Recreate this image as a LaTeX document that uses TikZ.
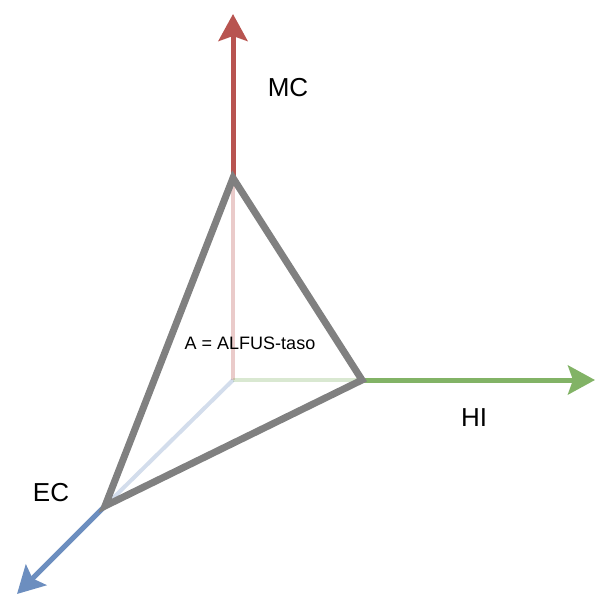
\documentclass[tikz,border=0pt]{standalone}
\usepackage{fontspec}
\setmainfont{Liberation Sans}
\usetikzlibrary{arrows.meta}
\definecolor{mcred}{HTML}{B85450}
\definecolor{higreen}{HTML}{82B366}
\definecolor{ecblue}{HTML}{6C8EBF}
\definecolor{tri}{HTML}{808080}
\begin{document}
\begin{tikzpicture}[x=1pt,y=-1pt,
  axis/.style={line width=5pt, -{Stealth[length=27pt,width=29pt,inset=5pt]}},
  faint/.style={line width=4pt, opacity=0.3},
  triline/.style={line width=7pt, draw=tri, line join=miter},
  biglabel/.style={font=\fontsize{26}{30}\selectfont, inner sep=0pt},
  smalllabel/.style={font=\fontsize{18}{21}\selectfont, inner sep=0pt}]
\useasboundingbox (0,0) rectangle (595,597);
\coordinate (O) at (233,380);
\coordinate (T) at (233,178);
\coordinate (R) at (362,380);
\coordinate (L) at (105,506);
\coordinate (tipMC) at (233,14);
\coordinate (tipHI) at (595,380);
\coordinate (tipEC) at (17,594);
% faded inner parts
\draw[faint, mcred] (O) -- (T);
\draw[faint, higreen] (O) -- (R);
\draw[faint, ecblue] (O) -- (L);
% solid outer parts
\draw[axis, mcred] (T) -- (tipMC);
\draw[axis, higreen] (R) -- (tipHI);
\draw[axis, ecblue] (L) -- (tipEC);
% triangle
\draw[triline] (T) -- (R) -- (L) -- cycle;
% labels
\node[biglabel] (mc) at (288,88) {MC};
\node[biglabel] (hi) at (474,418) {HI};
\node[biglabel] (ec) at (51,493) {EC};
\node[smalllabel, anchor=base] (alfus) at (250,349) {A = ALFUS-taso};
\end{tikzpicture}
\end{document}
